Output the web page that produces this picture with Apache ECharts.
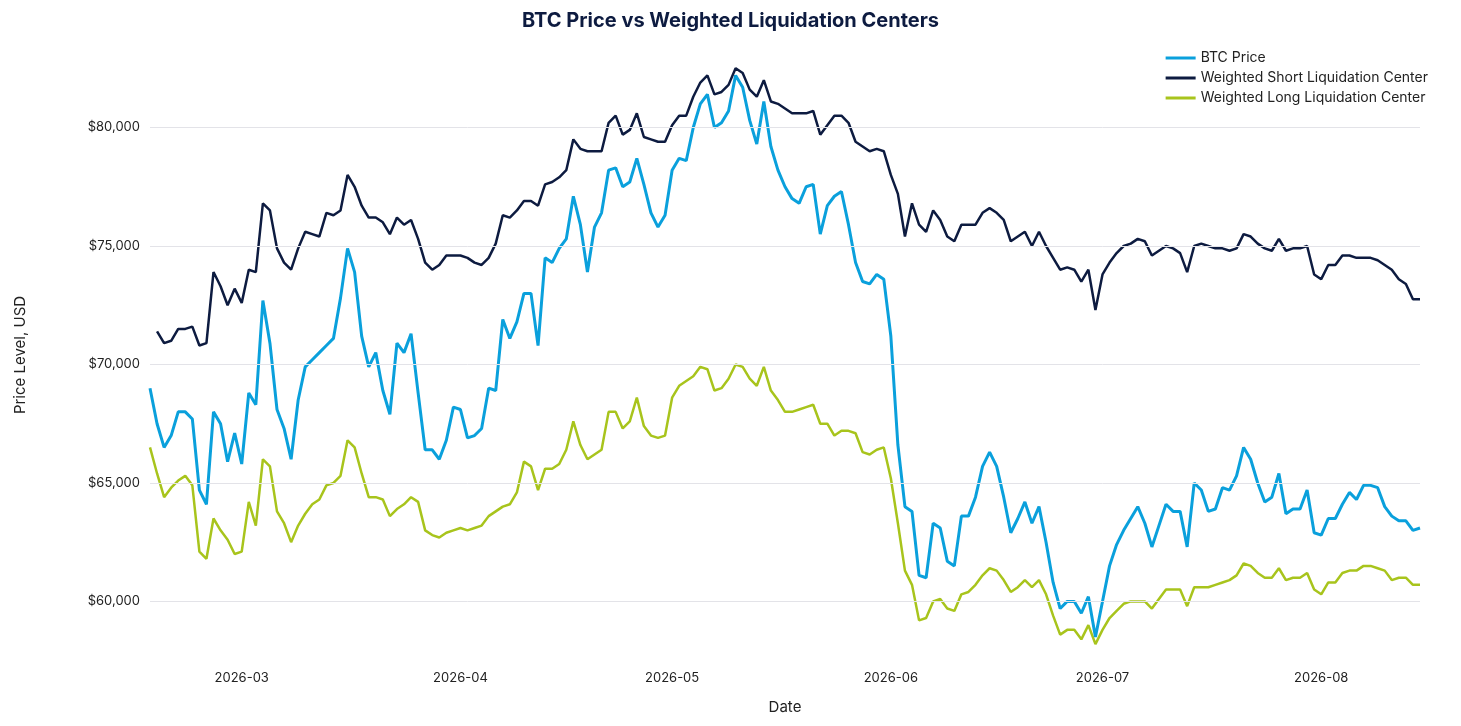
<!DOCTYPE html>
<html>
<head>
<meta charset="utf-8">
<script src="https://cdn.jsdelivr.net/npm/echarts@6/dist/echarts.min.js"></script>
<style>html,body{margin:0;padding:0;background:#fff}#main{width:1461px;height:726px}</style>
</head>
<body>
<div id="main"></div>
<script>
// daily data, 2026-02-16 .. 2026-08-15
var startDate = '2026-02-16';
var btcPrice = [69000,67500,66500,67000,68000,68000,67700,64700,64100,68000,67500,65900,67100,
65800,68800,68300,72700,70900,68100,67300,66000,68500,69900,70200,70500,70800,71100,72800,74900,73900,71200,69900,70500,68900,67900,70900,70500,71300,68800,66400,66400,66000,66800,68200,
68100,66900,67000,67300,69000,68900,71900,71100,71800,73000,73000,70800,74500,74300,74900,75300,77100,75900,73900,75800,76400,78200,78300,77500,77700,78700,77600,76400,75800,76300,
78200,78700,78600,80000,81000,81400,80000,80200,80700,82200,81700,80300,79300,81100,79200,78200,77500,77000,76800,77500,77600,75500,76700,77100,77300,75900,74300,73500,73400,73800,73600,
71200,66600,64000,63800,61100,61000,63300,63100,61700,61500,63600,63600,64400,65700,66300,65700,64400,62900,63500,64200,63300,64000,62500,60800,59700,60000,60000,59500,60200,58500,
60000,61500,62400,63000,63500,64000,63300,62300,63200,64100,63800,63800,62300,65000,64700,63800,63900,64800,64700,65300,66500,66000,65000,64200,64400,65400,63700,63900,63900,64700,62900,
62800,63500,63500,64100,64600,64300,64900,64900,64800,64000,63600,63400,63400,63000,63100];
var shortCenter = [null,71400,70900,71000,71500,71500,71600,70800,70900,73900,73300,72500,73200,
72600,74000,73900,76800,76500,74900,74300,74000,74900,75600,75500,75400,76400,76300,76500,78000,77500,76700,76200,76200,76000,75500,76200,75900,76100,75300,74300,74000,74200,74600,74600,
74600,74500,74300,74200,74500,75100,76300,76200,76500,76900,76900,76700,77600,77700,77900,78200,79500,79100,79000,79000,79000,80200,80500,79700,79900,80600,79600,79500,79400,79400,
80100,80500,80500,81300,81900,82200,81400,81500,81800,82500,82300,81600,81300,82000,81100,81000,80800,80600,80600,80600,80700,79700,80100,80500,80500,80200,79400,79200,79000,79100,79000,
78000,77200,75400,76800,75900,75600,76500,76100,75400,75200,75900,75900,75900,76400,76600,76400,76100,75200,75400,75600,75000,75600,75000,74500,74000,74100,74000,73500,74000,72300,
73800,74300,74700,75000,75100,75300,75200,74600,74800,75000,74900,74700,73900,75000,75100,75000,74900,74900,74800,74900,75500,75400,75100,74900,74800,75300,74800,74900,74900,75000,73800,
73600,74200,74200,74600,74600,74500,74500,74500,74400,74200,74000,73600,73400,72750,72750];
var longCenter = [66500,65400,64400,64800,65100,65300,64900,62100,61800,63500,63000,62600,62000,
62100,64200,63200,66000,65700,63800,63300,62500,63200,63700,64100,64300,64900,65000,65300,66800,66500,65400,64400,64400,64300,63600,63900,64100,64400,64200,63000,62800,62700,62900,63000,
63100,63000,63100,63200,63600,63800,64000,64100,64600,65900,65700,64700,65600,65600,65800,66400,67600,66600,66000,66200,66400,68000,68000,67300,67600,68600,67400,67000,66900,67000,
68600,69100,69300,69500,69900,69800,68900,69000,69400,70000,69900,69400,69100,69900,68900,68500,68000,68000,68100,68200,68300,67500,67500,67000,67200,67200,67100,66300,66200,66400,66500,
65200,63300,61300,60700,59200,59300,60000,60100,59700,59600,60300,60400,60700,61100,61400,61300,60900,60400,60600,60900,60600,60900,60300,59400,58600,58800,58800,58400,59000,58200,
58800,59300,59600,59900,60000,60000,60000,59700,60100,60500,60500,60500,59800,60600,60600,60600,60700,60800,60900,61100,61600,61500,61200,61000,61000,61400,60900,61000,61000,61200,60500,
60300,60800,60800,61200,61300,61300,61500,61500,61400,61300,60900,61000,61000,60700,60700];
var gridValues = [60000,65000,70000,75000,80000];

var dates = [];
var d0 = new Date(startDate + 'T00:00:00Z');
for (var i = 0; i < btcPrice.length; i++) {
    var d = new Date(d0.getTime() + i * 86400000);
    dates.push(d.toISOString().substring(0, 10));
}

var font = 'Inter, "Noto Sans", sans-serif';
var chart = echarts.init(document.getElementById('main'));
var option = {
    backgroundColor: '#fff',
    textStyle: {fontFamily: font},
    title: {
        text: 'BTC Price vs Weighted Liquidation Centers',
        left: 'center', top: 6,
        textStyle: {fontSize: 20, fontWeight: 'bold', color: '#0d1b40', fontFamily: font}
    },
    legend: {
        orient: 'vertical', right: 28, top: 46, itemGap: 6,
        itemWidth: 30, itemHeight: 3, icon: 'rect',
        textStyle: {fontSize: 14, color: '#222', fontFamily: font},
        data: ['BTC Price', 'Weighted Short Liquidation Center', 'Weighted Long Liquidation Center']
    },
    grid: {left: 150, right: 41, top: 60, bottom: 76},
    xAxis: {
        type: 'category', data: dates, boundaryGap: false,
        name: 'Date', nameLocation: 'middle', nameGap: 50,
        nameTextStyle: {fontSize: 15, color: '#222'},
        axisLine: {show: false}, axisTick: {show: false},
        axisLabel: {
            fontSize: 13, color: '#222', margin: 22,
            interval: function (idx, val) { return val.substring(8) === '01'; },
            formatter: function (val) { return val.substring(0, 7); }
        }
    },
    yAxis: {
        type: 'value', min: 57950, max: 82850,
        name: 'Price Level, USD', nameLocation: 'middle', nameGap: 122,
        nameTextStyle: {fontSize: 15, color: '#222'},
        axisLine: {show: false}, axisTick: {show: false}, splitLine: {show: false},
        axisLabel: {
            fontSize: 13, color: '#222', margin: 10,
            customValues: gridValues,
            formatter: function (v) { return '$' + v.toLocaleString('en-US'); }
        }
    },
    series: [
        {
            name: 'BTC Price', type: 'line', data: btcPrice, symbol: 'none', z: 3,
            lineStyle: {width: 3, color: '#0aa0dc'}, itemStyle: {color: '#0aa0dc'},
            markLine: {
                silent: true, symbol: 'none', label: {show: false},
                lineStyle: {type: 'solid', color: '#e3e3e8', width: 1},
                data: gridValues.map(function (v) { return {yAxis: v}; })
            }
        },
        {
            name: 'Weighted Short Liquidation Center', type: 'line', data: shortCenter, symbol: 'none', z: 2,
            lineStyle: {width: 2.5, color: '#0d1b40'}, itemStyle: {color: '#0d1b40'}
        },
        {
            name: 'Weighted Long Liquidation Center', type: 'line', data: longCenter, symbol: 'none', z: 2,
            lineStyle: {width: 2.5, color: '#a8c41c'}, itemStyle: {color: '#a8c41c'}
        }
    ]
};
chart.setOption(option);
</script>
</body>
</html>
